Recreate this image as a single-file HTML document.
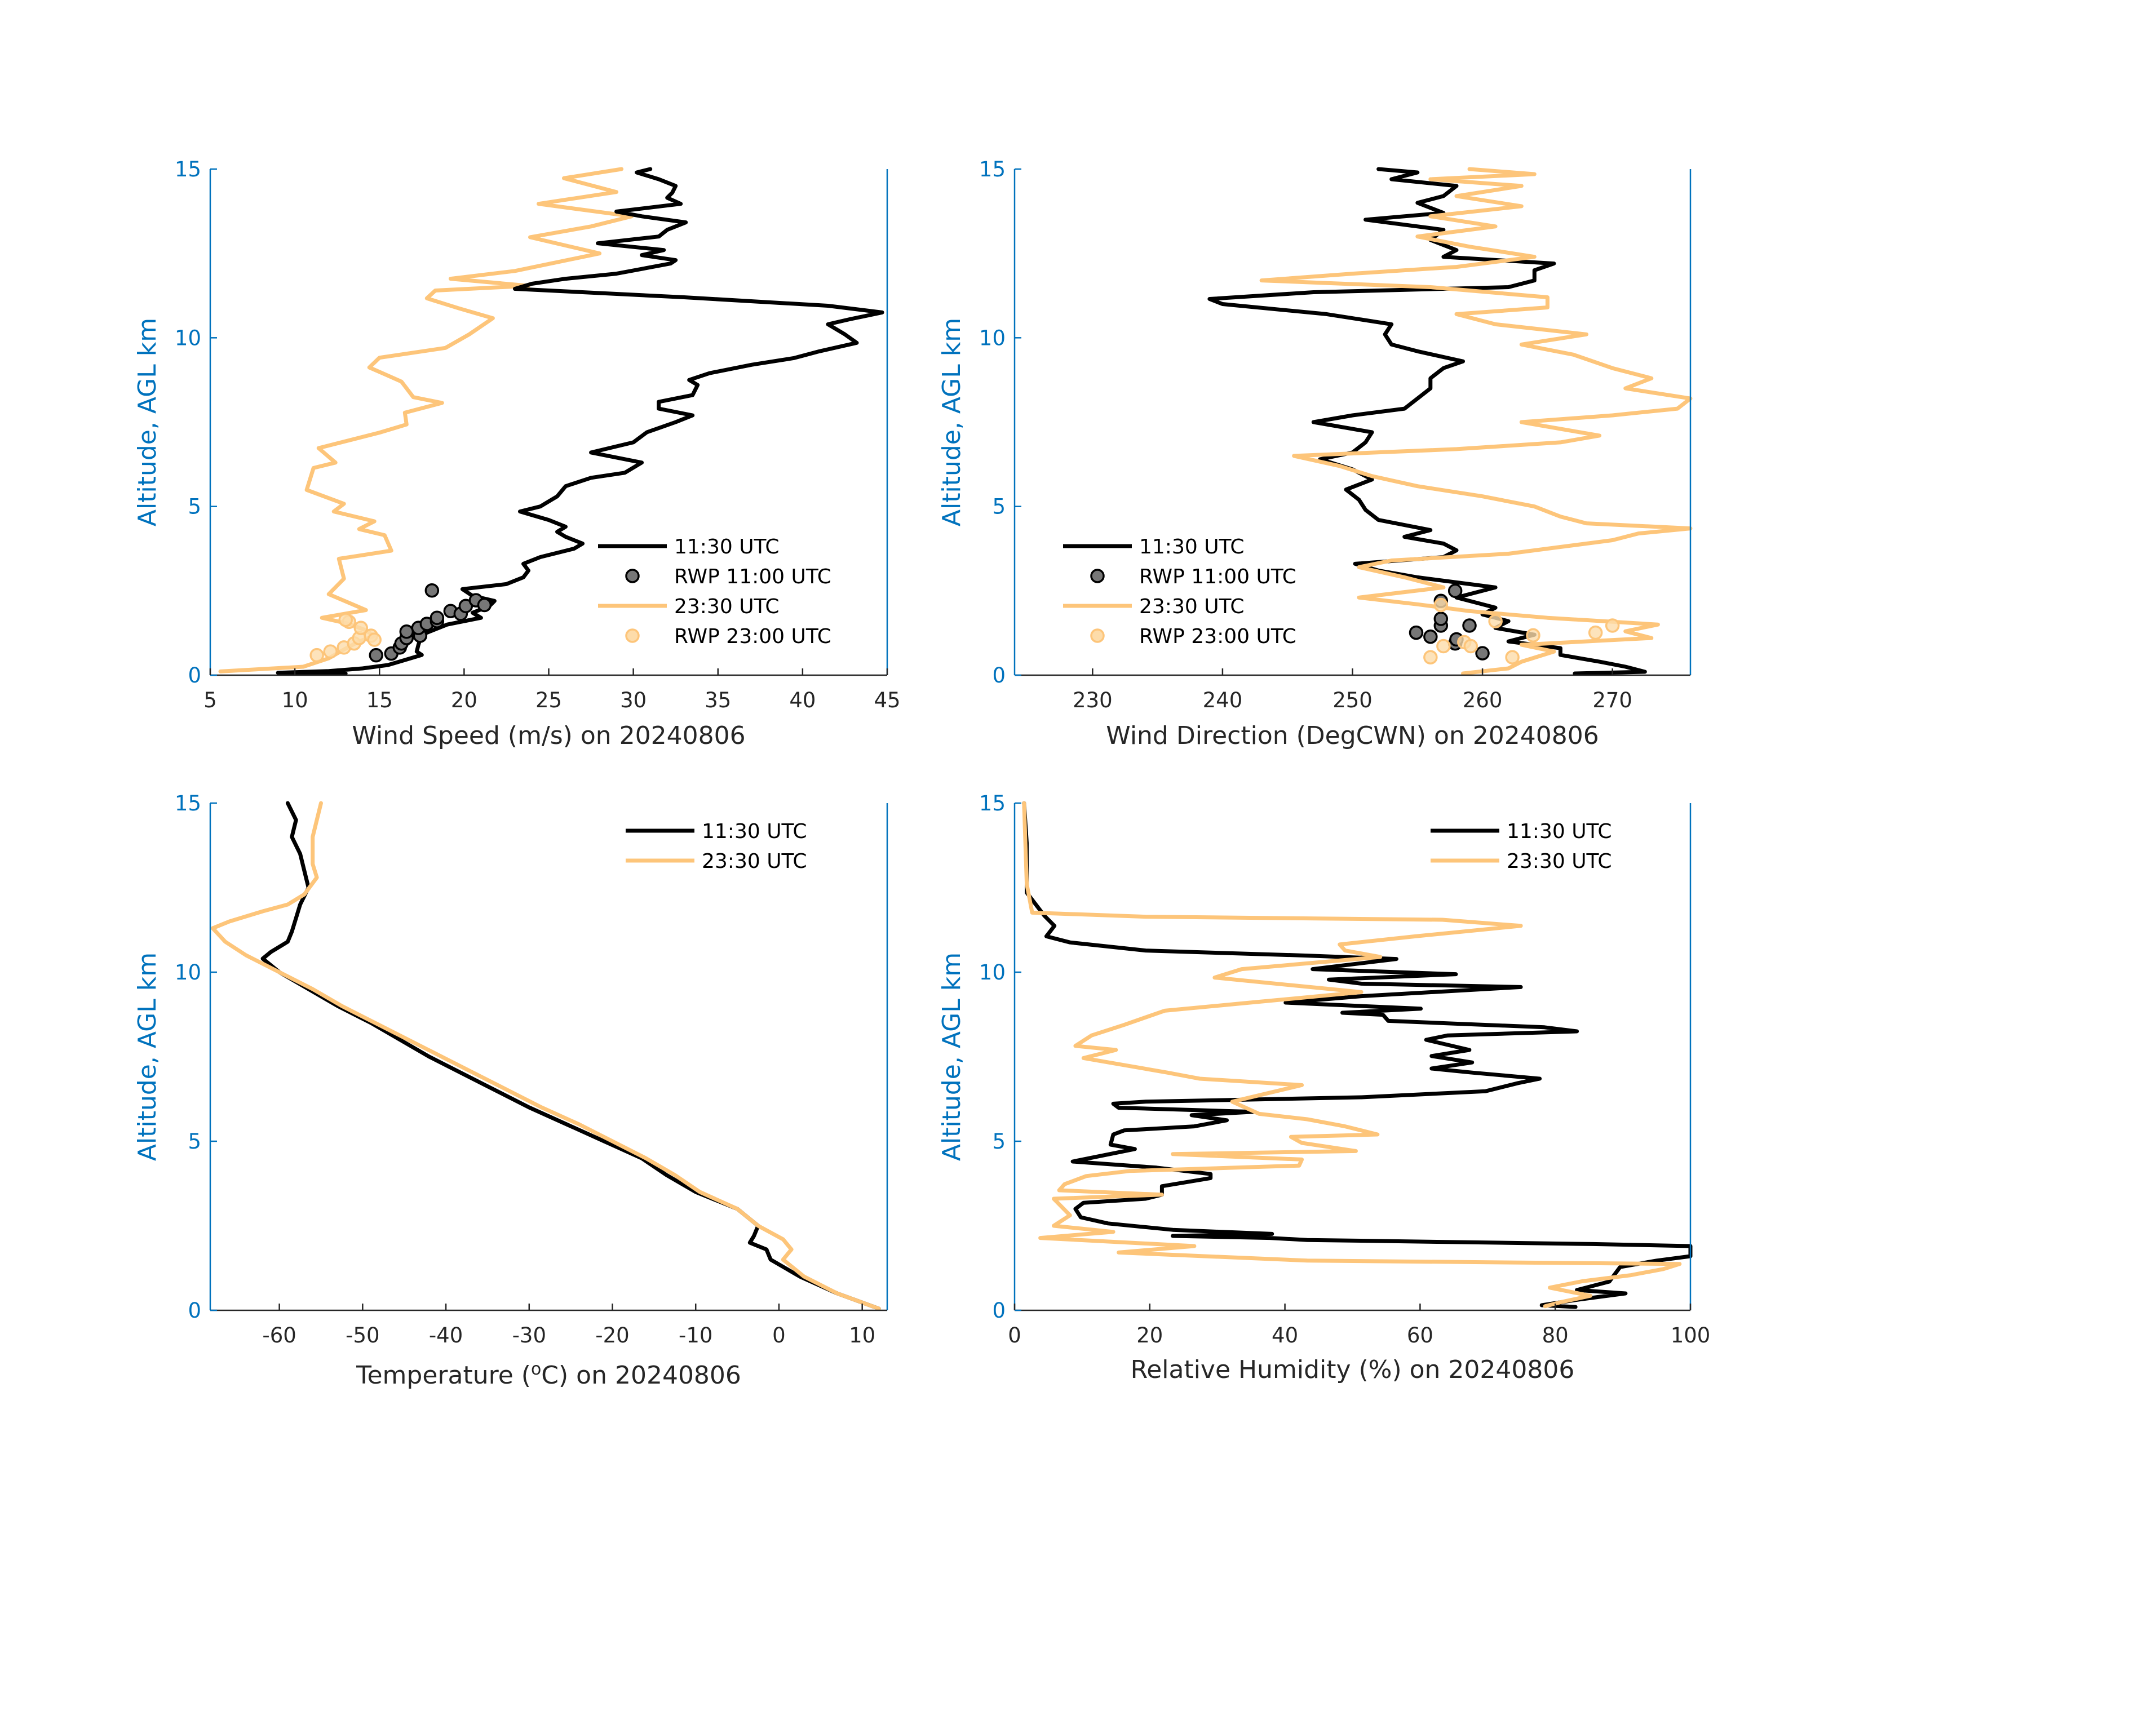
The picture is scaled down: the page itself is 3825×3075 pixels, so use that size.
<!DOCTYPE html>
<html><head><meta charset="utf-8"><style>
body{margin:0;background:#fff}
svg{display:block;font-family:"DejaVu Sans","Liberation Sans",sans-serif}
</style></head><body>
<svg id="fig" width="3825" height="3075" viewBox="0 0 3825 3075" xmlns="http://www.w3.org/2000/svg"></svg>
<script>
// ---------- DATA ----------
const wsBlackAlt=[0.05,0.07,0.12,0.2,0.3,0.45,0.6,0.7,0.9,1.2,1.5,1.7,1.85,2.05,2.2,2.35,2.55,2.7,2.9,3.1,3.3,3.5,3.75,3.9,4.1,4.25,4.4,4.6,4.85,5.0,5.3,5.6,5.85,6.0,6.3,6.6,6.9,7.2,7.5,7.7,7.9,8.1,8.3,8.6,8.75,8.95,9.2,9.4,9.6,9.85,10.1,10.4,10.55,10.75,10.95,11.2,11.45,11.6,11.75,11.9,12.2,12.3,12.45,12.6,12.8,13.0,13.2,13.42,13.6,13.74,13.97,14.15,14.3,14.5,14.7,14.9,15];
const wsBlack=[13,9,12,14,15.5,16.5,17.5,17.2,17.3,17.5,19,21,20.5,21.5,21.8,20.5,19.9,22.5,23.5,23.8,23.5,24.5,26.5,27,26,25.5,26,25,23.3,24.5,25.5,26,27.5,29.5,30.5,27.5,30,30.8,32.5,33.5,31.5,31.5,33.5,33.8,33.3,34.5,37,39.5,41,43.2,42.5,41.5,42.8,44.7,41.5,33,23,24,26,29,32.2,32.5,30.5,31.8,27.9,31.5,32,33.1,30.5,29,32.8,32,32.3,32.5,31.5,30.2,31];
const wsOrangeAlt=[0.11,0.25,0.5,0.76,1.0,1.17,1.35,1.52,1.7,1.93,2.4,2.86,3.45,3.69,4.15,4.33,4.56,4.85,5.08,5.49,6.14,6.3,6.73,7.19,7.43,7.78,8.07,8.24,8.7,8.9,9.12,9.41,9.7,10.1,10.58,10.87,11.17,11.4,11.54,11.75,11.98,12.5,12.98,13.3,13.6,13.97,14.32,14.73,15];
const wsOrange=[5.6,10.5,12,12.9,13.8,14.7,14.1,13.2,11.6,14.2,12,12.9,12.6,15.7,15.3,13.8,14.7,12.3,12.9,10.7,11.1,12.4,11.4,15,16.6,16.5,18.7,17,16.3,15.4,14.4,15,18.9,20.3,21.7,19.7,17.8,18.3,23.8,19.2,23,28,23.9,27.5,29.9,24.4,29,25.9,29.3];
const rwpWsAmAlt=[0.59,0.64,0.82,0.94,1.1,1.29,1.17,1.4,1.52,1.6,1.7,1.9,1.82,2.05,2.22,2.08,2.51];
const rwpWsAm=[14.8,15.7,16.2,16.3,16.6,16.6,17.4,17.3,17.8,18.4,18.4,19.2,19.8,20.1,20.7,21.2,18.1];
const rwpWsPmAlt=[0.59,0.7,0.82,0.94,1.1,1.17,1.05,1.4,1.58,1.64];
const rwpWsPm=[11.3,12.1,12.9,13.5,13.8,14.5,14.7,13.9,13.2,13.0];

const wdBlackAlt=[0.05,0.1,0.25,0.4,0.6,0.8,1.0,1.2,1.4,1.6,1.8,2.0,2.3,2.6,2.9,3.1,3.3,3.5,3.7,3.9,4.1,4.3,4.6,4.9,5.2,5.5,5.8,6.1,6.4,6.6,6.9,7.2,7.5,7.7,7.9,8.2,8.5,8.8,9.1,9.3,9.6,9.8,10.1,10.4,10.7,11.0,11.15,11.35,11.5,11.7,12.0,12.2,12.4,12.6,12.9,13.2,13.5,13.7,14.0,14.2,14.5,14.7,14.9,15];
const wdBlack=[267.1,272.5,271,269,266,266,262,264,261,262,260,261,258,261,255,252,250.2,257,258,257,254,256,252,251,250.5,249.5,251.5,250,247.5,250,251,251.5,247,250,254,255,256,256,257,258.5,255,253,252.5,253,248,240,239,247,262,264,264,265.5,257,258,256,257,251,257,255,257,258,253,255,252];
const wdOrangeAlt=[0.05,0.2,0.4,0.7,0.9,1.1,1.3,1.5,1.7,1.9,2.1,2.3,2.6,2.9,3.2,3.4,3.6,3.8,4.0,4.2,4.35,4.5,4.7,5.0,5.3,5.6,5.9,6.2,6.5,6.7,6.9,7.1,7.3,7.5,7.7,7.9,8.2,8.5,8.8,9.1,9.5,9.8,10.1,10.4,10.7,10.9,11.2,11.5,11.7,11.9,12.1,12.4,12.7,13.0,13.3,13.6,13.9,14.2,14.5,14.7,14.85,15];
const wdOrange=[258.5,262,263,265.5,263,273,271,273.5,265,259,255,250.5,257,254,250.5,253,262,266,270,272,276,268,266,264,260,255,251.5,249,245.5,258,266,269,266,263,270,275,276,271,273,270,267,263,268,261,258,265,265,256,243,250,258,264,259,255,261,256,263,258,263,256,264,259];
const rwpWdAmAlt=[1.26,1.14,1.47,1.67,0.94,1.47,0.65,2.2,2.5,1.06];
const rwpWdAm=[254.9,256,256.8,256.8,257.9,259,260,256.8,257.9,258];
const rwpWdPmAlt=[0.53,0.86,0.98,1.6,0.53,1.18,1.26,1.47,2.08,0.86];
const rwpWdPm=[256,257,258.6,261,262.3,263.9,268.7,270,256.8,259.1];

const tBlackAlt=[0.05,0.5,1,1.5,1.8,2.0,2.2,2.5,3,3.5,4,4.5,5,5.5,6,6.5,7,7.5,8,8.5,9,9.5,10,10.4,10.6,10.9,11.2,11.6,12,12.5,13,13.5,14,14.5,15];
const tBlack=[12,7,2.5,-1,-1.5,-3.5,-3,-2.5,-5,-10,-13.5,-16.5,-21,-25.5,-30,-34,-38,-42,-45.5,-49,-53,-56.5,-60,-62,-61,-59,-58.5,-58,-57.5,-56.5,-57,-57.5,-58.5,-58,-59];
const tOrangeAlt=[0.05,0.5,1,1.5,1.8,2.1,2.5,3,3.5,4,4.5,5,5.5,6,6.5,7,7.5,8,8.5,9,9.5,10,10.5,10.9,11.3,11.5,11.8,12.0,12.3,12.8,13.2,14,14.5,15];
const tOrange=[12,7,3,0.5,1.5,0.5,-2.5,-5,-9.5,-12.5,-16,-20,-24,-28.5,-32.5,-36.5,-40.5,-44.5,-48.5,-52.5,-56,-60,-64,-66.5,-68,-66,-62,-59,-57,-55.5,-56,-56,-55.5,-55];

const rhBlackAlt=[0.1,0.15,0.3,0.5,0.6,0.85,1.28,1.47,1.6,1.9,1.96,2.08,2.14,2.2,2.26,2.38,2.57,2.75,3.0,3.18,3.3,3.42,3.67,3.91,4.03,4.22,4.4,4.77,4.9,5.2,5.32,5.44,5.62,5.77,5.87,5.99,6.11,6.17,6.3,6.48,6.72,6.85,7.03,7.15,7.33,7.52,7.7,8.0,8.13,8.25,8.37,8.56,8.74,8.8,8.92,9.1,9.29,9.56,9.66,9.78,9.94,10.09,10.39,10.49,10.64,10.88,11.06,11.37,11.67,12.35,13.8,15];
const rhBlack=[83,78,82.8,90.4,83.2,88,89.6,95,100,100,85.6,43.3,37.8,23.4,38.1,23.4,13.8,9.8,9,10.2,19.4,21.8,21.8,29,29,21,8.6,17.8,14.2,14.6,16.2,26.6,31.4,26.2,35.4,15.4,14.6,19.4,51.3,69.7,74.5,77.7,67.7,61.7,67.7,61.7,67.3,60.9,64.1,83.2,78.4,55.3,54.5,48.5,60.1,40.1,51.3,74.9,51.3,46.5,65.3,44.1,56.5,43.3,19.4,8.2,4.7,5.9,4.4,1.8,1.8,1.4];
const rhOrangeAlt=[0.12,0.24,0.43,0.67,0.86,1.04,1.22,1.37,1.47,1.71,1.9,2.14,2.32,2.5,2.81,3.3,3.42,3.55,3.73,3.97,4.12,4.28,4.46,4.62,4.71,4.95,5.13,5.2,5.44,5.65,5.81,6.17,6.66,6.85,7.03,7.46,7.7,7.82,8.13,8.44,8.86,9.11,9.41,9.6,9.84,10.09,10.45,10.64,10.82,11.06,11.37,11.55,11.64,11.76,12.6,15];
const rhOrange=[78.5,80.8,85.2,79.2,84,91.2,96,98.4,43.3,15.4,26.6,3.8,14.6,5.8,8.2,5.8,21.8,6.6,7.4,10.6,17,42.1,42.5,23.4,50.5,42.5,40.9,53.7,48.9,43.3,36.2,32.2,42.5,27.4,22.6,10.2,15,9,11.4,16.2,22.2,35.4,51.3,41.7,29.6,33.6,54.1,48.9,48.1,59.3,74.9,63.3,19.4,2.6,1.8,1.4];

const yTicks=[0,5,10,15];
const wsTicks=[5,10,15,20,25,30,35,40,45];
const wdTicks=[230,240,250,260,270];
const tTicks=[-60,-50,-40,-30,-20,-10,0,10];
const rhTicks=[0,20,40,60,80,100];

// ---------- DRAWING ----------
const NS='http://www.w3.org/2000/svg';
const svg=document.getElementById('fig');
const BLUE='#0072BD', ORANGE='#FDC57A', TXT='#262626';
function mk(tag,attrs,parent){const e=document.createElementNS(NS,tag);for(const k in attrs)e.setAttribute(k,attrs[k]);(parent||svg).appendChild(e);return e;}

function panel(cfg){
  const g=mk('g',{});
  
  
  const {x0,x1,y0,y1,xmin,xmax}=cfg;
  const sx=v=>x0+(v-xmin)/(xmax-xmin)*(x1-x0);
  const sy=a=>y1-(a/15)*(y1-y0);
  cfg.lines.forEach(L=>{
    let d='';L.v.forEach((v,i)=>{d+=(i?'L':'M')+sx(v).toFixed(1)+','+sy(L.a[i]).toFixed(1);});
    const p=mk('path',{d:d,fill:'none',stroke:L.c,'stroke-width':7,'stroke-linejoin':'round','stroke-linecap':'round'},g);
    
    
  });
  (cfg.pts||[]).forEach(P=>{
    P.v.forEach((v,i)=>{
      const c=mk('circle',{cx:sx(v),cy:sy(P.a[i]),r:11,fill:P.f,stroke:P.s,'stroke-width':3.5,'fill-opacity':P.op},g);
      
      
    });
  });
  const la=mk('line',{x1:x0,y1:y0,x2:x0,y2:y1,stroke:BLUE,'stroke-width':2.5},g);
  
  
  const ra=mk('line',{x1:x1,y1:y0,x2:x1,y2:y1,stroke:BLUE,'stroke-width':2.5},g);
  
  
  const ba=mk('line',{x1:x0,y1:y1,x2:x1,y2:y1,stroke:TXT,'stroke-width':2.5},g);
  
  
  yTicks.forEach(t=>{
    mk('line',{x1:x0,y1:sy(t),x2:x0+12,y2:sy(t),stroke:BLUE,'stroke-width':2.5},g);
    const tx=mk('text',{x:x0-16,y:sy(t)+13,'text-anchor':'end','font-size':37,fill:BLUE},g);
    tx.textContent=t;
    
    
  });
  cfg.ticks.forEach(t=>{
    mk('line',{x1:sx(t),y1:y1,x2:sx(t),y2:y1-12,stroke:TXT,'stroke-width':2.5},g);
    const tx=mk('text',{x:sx(t),y:y1+57,'text-anchor':'middle','font-size':37,fill:TXT},g);
    tx.textContent=t;
    
    
  });
  const yl=mk('text',{x:0,y:0,'text-anchor':'middle','font-size':44,fill:BLUE,transform:`translate(${x0-97},${(y0+y1)/2}) rotate(-90)`},g);
  yl.textContent='Altitude, AGL km';
  
  
  const xl=mk('text',{x:(x0+x1)/2,y:cfg.xly,'text-anchor':'middle','font-size':44,fill:TXT},g);
  xl.innerHTML=cfg.xlabel;
  
  
  const lg=mk('g',{},g);
  
  
  cfg.legend.forEach((e,i)=>{
    const y=cfg.ly+i*53;
    if(e.t==='l') mk('line',{x1:cfg.lx,y1:y,x2:cfg.lx+122,y2:y,stroke:e.c,'stroke-width':7},lg);
    else mk('circle',{cx:cfg.lx+61,cy:y,r:11,fill:e.f,stroke:e.s,'stroke-width':3.5,'fill-opacity':e.op},lg);
    const tx=mk('text',{x:cfg.lx+135,y:y+13,'font-size':36,fill:'#000'},lg);
    tx.textContent=e.label;
    
    
  });
}
const legFull=[{t:'l',c:'#000',label:'11:30 UTC'},{t:'p',f:'#777',s:'#000',op:1,label:'RWP 11:00 UTC'},{t:'l',c:ORANGE,label:'23:30 UTC'},{t:'p',f:'#FDDCAA',s:'#FDC57A',op:1,label:'RWP 23:00 UTC'}];
const legTwo=[{t:'l',c:'#000',label:'11:30 UTC'},{t:'l',c:ORANGE,label:'23:30 UTC'}];

panel({name:'wind-speed-panel',x0:373,x1:1574,y0:300,y1:1198,xmin:5,xmax:45,ticks:wsTicks,xly:1320,xlabel:'Wind Speed (m/s) on 20240806',
  lines:[{a:wsOrangeAlt,v:wsOrange,c:ORANGE,n:'wind-speed-2330'},{a:wsBlackAlt,v:wsBlack,c:'#000',n:'wind-speed-1130'}],
  pts:[{a:rwpWsAmAlt,v:rwpWsAm,f:'#777',s:'#000',op:1,n:'rwp-1100-point'},{a:rwpWsPmAlt,v:rwpWsPm,f:'#FDDCAA',s:'#FDC57A',op:0.8,n:'rwp-2300-point'}],
  legend:legFull,lx:1061,ly:969});
panel({name:'wind-direction-panel',x0:1800,x1:2999,y0:300,y1:1198,xmin:224,xmax:276,ticks:wdTicks,xly:1320,xlabel:'Wind Direction (DegCWN) on 20240806',
  lines:[{a:wdBlackAlt,v:wdBlack,c:'#000',n:'wind-direction-1130'},{a:wdOrangeAlt,v:wdOrange,c:ORANGE,n:'wind-direction-2330'}],
  pts:[{a:rwpWdAmAlt,v:rwpWdAm,f:'#777',s:'#000',op:1,n:'rwp-1100-point'},{a:rwpWdPmAlt,v:rwpWdPm,f:'#FDDCAA',s:'#FDC57A',op:0.8,n:'rwp-2300-point'}],
  legend:legFull,lx:1886,ly:969});
panel({name:'temperature-panel',x0:373,x1:1574,y0:1425,y1:2325,xmin:-68.3,xmax:13,ticks:tTicks,xly:2455,xlabel:'Temperature (<tspan font-size="30" dy="-16">o</tspan><tspan dy="16">C) on 20240806</tspan>',
  lines:[{a:tBlackAlt,v:tBlack,c:'#000',n:'temperature-1130'},{a:tOrangeAlt,v:tOrange,c:ORANGE,n:'temperature-2330'}],
  legend:legTwo,lx:1110,ly:1474});
panel({name:'humidity-panel',x0:1800,x1:2999,y0:1425,y1:2325,xmin:0,xmax:100,ticks:rhTicks,xly:2445,xlabel:'Relative Humidity (%) on 20240806',
  lines:[{a:rhBlackAlt,v:rhBlack,c:'#000',n:'humidity-1130'},{a:rhOrangeAlt,v:rhOrange,c:ORANGE,n:'humidity-2330'}],
  legend:legTwo,lx:2538,ly:1474});
</script>
</body></html>
